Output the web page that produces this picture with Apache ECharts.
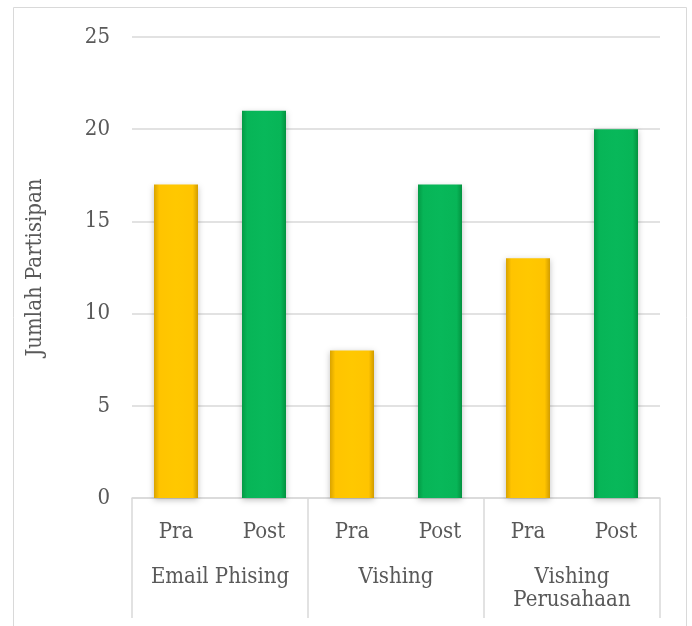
<!DOCTYPE html>
<html><head><meta charset="utf-8">
<script src="https://cdn.jsdelivr.net/npm/echarts@6/dist/echarts.min.js"></script>
<style>html,body{margin:0;padding:0;background:#fff}#c{width:692px;height:626px}</style>
</head><body><div id="c"></div>
<script>
const subCategories = ['Pra','Post','Pra','Post','Pra','Post'];
const groups = ['Email Phising','Vishing','Vishing\nPerusahaan'];
const values = [17, 21, 8, 17, 13, 20];
const yTicks = [0, 5, 10, 15, 20, 25];
const yName = 'Jumlah Partisipan';

const F = '"DejaVu Serif Condensed", "DejaVu Serif", serif';
const FS = 22;
const gold = {type:'linear',x:0,y:0,x2:1,y2:0,colorStops:[{offset:0,color:'#d9a300'},{offset:0.12,color:'#ffc400'},{offset:0.5,color:'#ffc800'},{offset:0.88,color:'#ffc400'},{offset:1,color:'#d19c00'}]};
const green = {type:'linear',x:0,y:0,x2:1,y2:0,colorStops:[{offset:0,color:'#049a45'},{offset:0.12,color:'#07b557'},{offset:0.5,color:'#08b85a'},{offset:0.88,color:'#07b557'},{offset:1,color:'#03923f'}]};

const chart = echarts.init(document.getElementById('c'));
chart.setOption({
  animation:false,
  graphic:[{type:'rect',shape:{x:13.5,y:7.5,width:673,height:660},style:{fill:'none',stroke:'#d9d9d9',lineWidth:1}}],
  grid:{left:132,right:32,top:37,bottom:128},
  xAxis:[
    {type:'category',data:subCategories,position:'bottom',
     axisLine:{lineStyle:{color:'#d9d9d9',width:1.5}},axisTick:{show:false},
     axisLabel:{interval:0,color:'#595959',fontFamily:F,fontSize:FS,margin:23}},
    {type:'category',data:groups,position:'bottom',
     axisLine:{show:false},
     axisTick:{show:true,interval:0,length:120,lineStyle:{color:'#d9d9d9',width:1.5}},
     axisLabel:{interval:0,hideOverlap:false,color:'#595959',fontFamily:F,fontSize:FS,margin:68,lineHeight:23,verticalAlign:'top'}}
  ],
  yAxis:{type:'value',min:yTicks[0],max:yTicks[yTicks.length-1],interval:5,
    name:yName,nameLocation:'middle',nameGap:86,
    nameTextStyle:{color:'#595959',fontFamily:F,fontSize:FS},
    axisLine:{show:false},axisTick:{show:false},
    axisLabel:{color:'#595959',fontFamily:F,fontSize:FS,margin:22},
    splitLine:{lineStyle:{color:'#d9d9d9',width:1.5}}},
  series:[{type:'bar',xAxisIndex:0,barWidth:'50%',
    data:values.map((v,i)=>({value:v,itemStyle:{color:i%2===0?gold:green}})),
    itemStyle:{shadowColor:'rgba(0,0,0,0.25)',shadowBlur:6,shadowOffsetX:0,shadowOffsetY:2}}]
});
</script></body></html>
